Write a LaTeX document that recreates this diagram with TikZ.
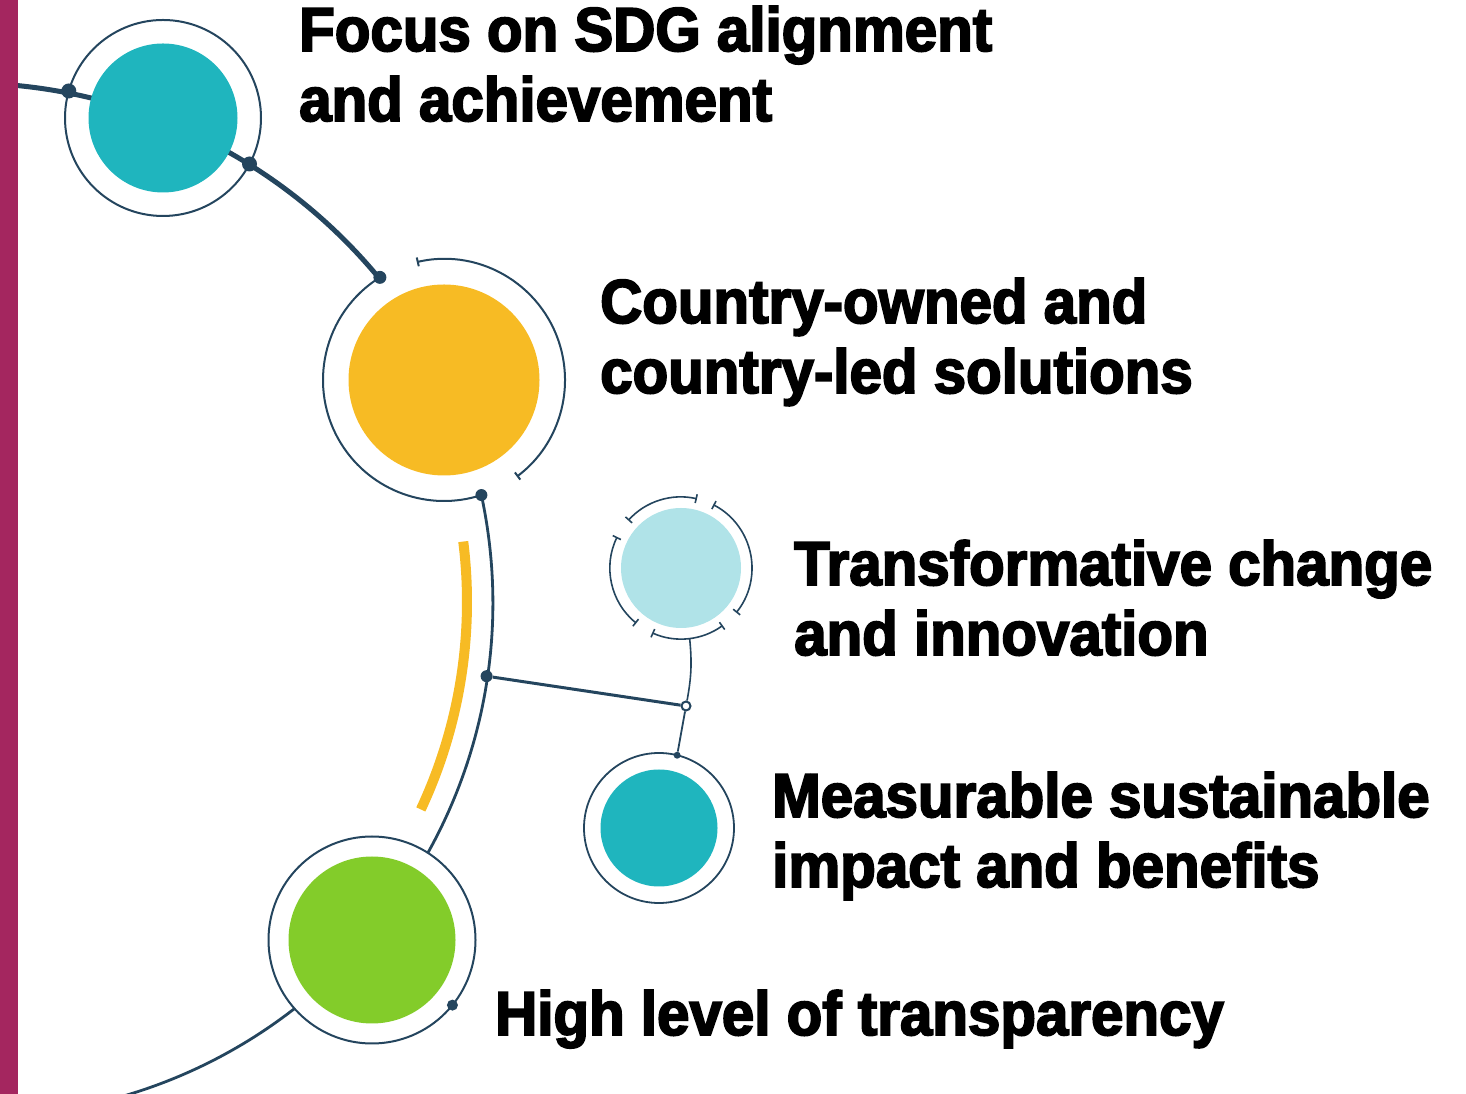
\documentclass[tikz,border=0pt]{standalone}
\usepackage{fontspec}
\setmainfont{Liberation Sans}
\newfontfamily\heavyfont{Liberation Sans}[BoldFeatures={FakeBold=3, FakeStretch=0.94}]
\usetikzlibrary{positioning,calc,arrows.meta}

\definecolor{navy}{HTML}{24455E}
\definecolor{sdgteal}{HTML}{1FB5BE}
\definecolor{sdgyellow}{HTML}{F7BB24}
\definecolor{sdglight}{HTML}{B0E3E8}
\definecolor{sdggreen}{HTML}{83CC2A}
\definecolor{sdgmagenta}{HTML}{A4265F}

\begin{document}
\begin{tikzpicture}
  [
    x=1pt, y=1pt,
    disc/.style = {circle, fill=#1, inner sep=0pt, outer sep=0pt},
    ring/.style = {circle, draw=navy, line width=2pt, inner sep=0pt, outer sep=0pt},
    dot/.style = {circle, fill=navy, inner sep=0pt, minimum size=#1},
    goal/.style = {anchor=base west, inner sep=0pt, align=left,
                   font=\heavyfont\bfseries\fontsize{62}{70}\selectfont},
    segment/.style = {navy, line width=1.6pt, {Bar[width=9pt]}-{Bar[width=9pt]}}
  ]
  \useasboundingbox (0,0) rectangle (1466,1094);

  % centres of the two big arcs
  \coordinate (upper) at (-35,474);
  \coordinate (lower) at (-22,492);

  \node[ring, minimum size=196pt] (focusring) at (163,976) {};
  \node[circle, inner sep=0pt, outer sep=0pt, minimum size=242pt] (countryring) at (444,714) {};

  % the spine
  \draw[navy, line width=5pt] ($(upper)+(89:537)$) arc[start angle=89, end angle=39.5, radius=537];
  \draw[navy, line width=2.8pt] (countryring.288) arc[start angle=12.1, end angle=-76, radius=514];
  \draw[sdgyellow, line width=10pt] ($(lower)+(7.1:489)$) arc[start angle=7.1, end angle=-25.1, radius=489];

  % country ring
  \draw[navy, line width=2pt] (countryring.122) arc[start angle=122, end angle=288, radius=121];
  \draw[segment, line width=2pt] (countryring.103) arc[start angle=103, end angle=-53, radius=121];

  \node[disc=sdgteal, minimum size=149pt] (focus) at (focusring.center) {};
  \node[disc=sdgyellow, minimum size=191pt] (country) at (countryring.center) {};

  \node[dot=15pt] (fd1) at (focusring.164) {};
  \node[dot=15pt] (fd2) at (focusring.-28) {};
  \node[dot=13pt] (cd1) at (countryring.122) {};
  \node[dot=12pt] (cd2) at (countryring.288) {};

  % transparency
  \node[ring, fill=white, minimum size=207pt] (highring) at (372,154) {};
  \node[disc=sdggreen, minimum size=167pt] (high) at (highring.center) {};
  \node[dot=11pt] (hd) at (highring.-39) {};

  % innovation
  \node[circle, inner sep=0pt, outer sep=0pt, minimum size=142pt] (transformring) at (681,526) {};
  \foreach \a/\b in {77/138, 154/231, 246/306, -39/63}
    \draw[segment] (transformring.\a) arc[start angle=\a, end angle=\b, radius=71];
  \node[disc=sdglight, minimum size=120pt] (transform) at (transformring.center) {};

  % impact
  \node[ring, line width=1.8pt, minimum size=150pt] (measurering) at (659,266) {};
  \node[disc=sdgteal, minimum size=117pt] (measure) at (measurering.center) {};
  \node[dot=7pt] (md) at (measurering.76) {};

  % branch
  \node[dot=12pt] (junc) at ($(lower)+(-8.3:514)$) {};
  \node[circle, draw=navy, fill=white, line width=2pt, inner sep=0pt, minimum size=9pt] (hub) at (686,388) {};
  \draw[navy, line width=3pt] (junc) -- (hub);
  \draw[navy, line width=1.6pt] (transformring.-83) to[bend left=8] (hub);
  \draw[navy, line width=1.8pt] (hub) -- (md);

  \fill[sdgmagenta] (0,0) rectangle (18,1094);

  % texts
  \node[goal] (focustext) at (299,973) {Focus on SDG alignment\\and achievement};
  \node[goal] (countrytext) at (600,701) {Country-owned and\\country-led solutions};
  \node[goal] (transformtext) at (794,439) {Transformative change\\and innovation};
  \node[goal] (measuretext) at (772,207) {Measurable sustainable\\impact and benefits};
  \node[goal] (hightext) at (495,59) {High level of transparency};
\end{tikzpicture}
\end{document}
